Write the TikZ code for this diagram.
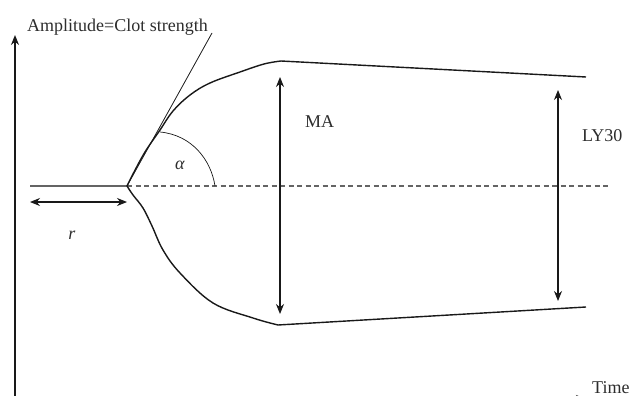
\documentclass[tikz,border=0pt]{standalone}
\usepackage{fontspec}
\setmainfont{Liberation Serif}
\usetikzlibrary{arrows.meta}
\definecolor{colTrait}{RGB}{25,25,25}
\definecolor{colTexte}{RGB}{45,45,45}
\definecolor{colPoint}{RGB}{100,100,100}

\begin{document}
\begin{tikzpicture}[x=1pt, y=-1pt,
    lbl/.style={inner sep=0pt, anchor=base west, text=colTexte,
      font=\fontsize{18}{20}\selectfont},
    trace/.style={line width=1.4pt, colTrait, line join=round},
    dim/.style={{Stealth[length=10pt,width=8pt]}-{Stealth[length=10pt,width=8pt]},
      line width=1.1pt, colTrait},
    ax/.style={-{Stealth[length=10pt,width=8pt]}, line width=1.2pt, colTrait}]
    \useasboundingbox (0,0) rectangle (630,396);
    \clip (0,0) rectangle (630,396);
    % axes
    \coordinate (orig) at (15,399);
    \coordinate (ytop) at (15,35);
    \coordinate (xend) at (586,399);
    \draw[ax] (orig)--(ytop);
    \draw[ax] (orig)--(xend);
    % trace
    \coordinate (start) at (30,186);
    \coordinate (r0) at (127,186);
    \coordinate (dashEnd) at (611,186);
    \coordinate (topMax) at (281,61);
    \coordinate (topEnd) at (586,77);
    \coordinate (botMax) at (278,325);
    \coordinate (botEnd) at (586,307);
    \draw[trace, colPoint] (start)--(r0);
    \draw[colPoint, line width=1.1pt, dash pattern=on 5pt off 3.5pt] (r0)--(dashEnd);
    \draw[trace] plot[smooth, tension=0.6] coordinates {(127,186) (133,174)
      (145,152) (160,130) (173,111) (190,95) (210,83) (240,72) (264,64) (281,61)};
    \draw[trace] (topMax)--(topEnd);
    \draw[trace] plot[smooth, tension=0.6] coordinates {(127,186) (133,195)
      (143,208) (152,226) (163,250) (180,273) (213,303) (253,318) (278,325)};
    \draw[trace] (botMax)--(botEnd);
    % tangent and angle
    \coordinate (tanEnd) at (212,33);
    \coordinate (a1) at (160,132);
    \coordinate (a2) at (215,186);
    \draw[line width=0.8pt, colTrait] (r0)--(tanEnd);
    \draw[line width=0.7pt, colTrait] (a1) .. controls (192,135) and (211,160) .. (a2);
    % cotes
    \coordinate (ma1) at (280,77);
    \coordinate (ma2) at (280,314);
    \coordinate (ly1) at (558,90);
    \coordinate (ly2) at (558,301);
    \coordinate (rA) at (30,202);
    \coordinate (rB) at (127,202);
    \draw[dim] (ma1)--(ma2);
    \draw[dim] (ly1)--(ly2);
    \draw[dim] (rA)--(rB);
    % textes
    \node[lbl] (ampl) at (27,32) {Amplitude=Clot strength};
    \node[lbl] (ma) at (305,128) {MA};
    \node[lbl] (ly) at (582,142) {LY30};
    \node[lbl] (time) at (592,393) {Time};
    \node[lbl, anchor=center] (alpha) at (180,165) {\textit{α}};
    \node[lbl, anchor=center] (rr) at (72,235) {\textit{r}};
  \end{tikzpicture}
\end{document}
